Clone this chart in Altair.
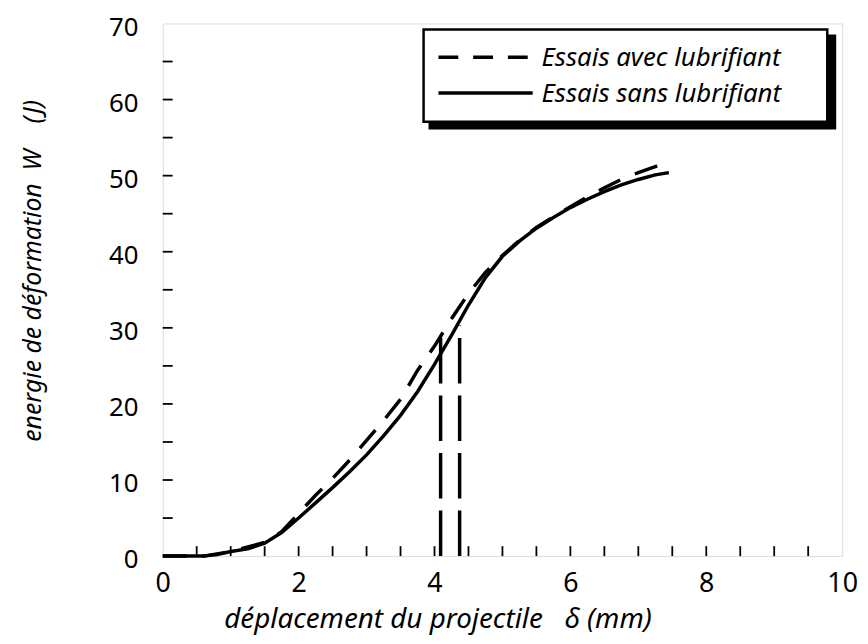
import altair as alt
import pandas as pd

# ---- data ----
x_sans = [0, 0.6, 0.8, 1.0, 1.25, 1.5, 1.75, 2.0, 2.25, 2.5, 2.75, 3.0, 3.25, 3.5, 3.75,
          4.0, 4.25, 4.5, 4.75, 5.0, 5.25, 5.5, 5.75, 6.0, 6.25, 6.5, 6.75, 7.0, 7.25, 7.45]
w_sans = [0, 0, 0.2, 0.6, 0.95, 1.7, 3.1, 5.0, 7.0, 9.0, 11.1, 13.3, 15.8, 18.5, 21.6,
          25.2, 29.0, 33.0, 36.6, 39.4, 41.4, 43.1, 44.5, 45.8, 46.9, 47.9, 48.8, 49.5, 50.1, 50.4]

x_avec = [0, 0.6, 1.0, 1.5, 1.75, 2.0, 2.25, 2.5, 2.75, 3.0, 3.25, 3.5, 3.75, 4.0, 4.25,
          4.5, 4.75, 5.0, 5.25, 5.5, 5.75, 6.0, 6.25, 6.5, 6.75, 7.0, 7.25, 7.45]
w_avec = [0, 0, 0.6, 1.8, 3.2, 5.6, 8.0, 10.2, 12.6, 15.2, 17.8, 20.6, 24.4, 27.6, 31.2,
          34.5, 37.3, 39.5, 41.5, 43.2, 44.6, 45.9, 47.2, 48.4, 49.5, 50.4, 51.2, 51.9]

vline_x = [4.09, 4.37]
vline_top = [29.4, 30.3]

x_tick_labels = [0, 2, 4, 6, 8, 10]
y_tick_labels = [0, 10, 20, 30, 40, 50, 60, 70]
x_minor = [i * 0.5 for i in range(1, 20)]
y_minor = [i * 5 for i in range(1, 14)]

legend_labels = ["Essais avec lubrifiant", "Essais sans lubrifiant"]
NB = "\u00a0"
x_title = "déplacement du projectile" + NB * 3 + "δ (mm)"
y_title = "energie de déformation" + NB * 2 + "W" + NB * 4 + "(J)"

W, H = 685, 537
FONT = "Noto Sans"

xs = alt.Scale(domain=[0, 10], nice=False)
ys = alt.Scale(domain=[0, 70], nice=False)

df_sans = pd.DataFrame({"x": x_sans, "w": w_sans})
df_avec = pd.DataFrame({"x": x_avec, "w": w_avec})
df_v = pd.DataFrame({"x": vline_x, "y0": [0, 0], "y1": vline_top})

x_axis = alt.Axis(values=x_tick_labels, format="d", title=x_title, ticks=False, domain=False, grid=False,
                  labelFontSize=27, labelFont=FONT, labelColor="black", labelPadding=15,
                  titleFont=FONT, titleFontSize=28, titleFontStyle="italic", titleFontWeight="normal",
                  titleColor="black", titleX=277, titleY=64, titleBaseline="middle", titleAlign="center",
                  labelFlush=False)
y_axis = alt.Axis(values=y_tick_labels, format="d", title=y_title, ticks=False, domain=False, grid=False,
                  labelFontSize=26, labelFont=FONT, labelColor="black", labelPadding=25, labelOffset=4,
                  titleFont=FONT, titleFontSize=25, titleFontStyle="italic", titleFontWeight="normal",
                  titleColor="black", titleX=-131, titleY=249, titleBaseline="middle", titleAlign="center",
                  titleAngle=-90, labelFlush=False)

sans = alt.Chart(df_sans).mark_line(color="black", strokeWidth=3.5).encode(
    x=alt.X("x:Q", scale=xs, axis=x_axis),
    y=alt.Y("w:Q", scale=ys, axis=y_axis),
)
avec = alt.Chart(df_avec).mark_line(color="black", strokeWidth=3.5, strokeDash=[24, 16]).encode(
    x=alt.X("x:Q", scale=xs),
    y=alt.Y("w:Q", scale=ys),
)
vlines = alt.Chart(df_v).mark_rule(color="black", strokeWidth=3.5, strokeDash=[46, 12]).encode(
    x=alt.X("x:Q", scale=xs),
    y=alt.Y("y0:Q", scale=ys),
    y2="y1:Q",
)

xt = alt.Chart(pd.DataFrame({"x": x_minor})).mark_rule(color="black", strokeWidth=1.8).encode(
    x=alt.X("x:Q", scale=xs), y=alt.value(H), y2=alt.value(H - 10))
yt = alt.Chart(pd.DataFrame({"y": y_minor})).mark_rule(color="black", strokeWidth=1.8).encode(
    y=alt.Y("y:Q", scale=ys), x=alt.value(0), x2=alt.value(10))

one = pd.DataFrame({"a": [0]})
shadow = alt.Chart(one).mark_rect(color="black").encode(
    x=alt.value(268), x2=alt.value(679), y=alt.value(11), y2=alt.value(107))
box = alt.Chart(one).mark_rect(fill="white", stroke="black", strokeWidth=2.5).encode(
    x=alt.value(263), x2=alt.value(670), y=alt.value(6), y2=alt.value(99))
leg_dash = alt.Chart(one).mark_rule(color="black", strokeWidth=3.5, strokeDash=[20, 15]).encode(
    x=alt.value(278), x2=alt.value(370), y=alt.value(34))
leg_solid = alt.Chart(one).mark_rule(color="black", strokeWidth=3.5).encode(
    x=alt.value(278), x2=alt.value(373), y=alt.value(70))
txt1 = alt.Chart(one).mark_text(align="left", baseline="alphabetic", font=FONT, fontSize=26,
                                fontStyle="italic", color="black").encode(
    x=alt.value(382), y=alt.value(43), text=alt.value(legend_labels[0]))
txt2 = alt.Chart(one).mark_text(align="left", baseline="alphabetic", font=FONT, fontSize=26,
                                fontStyle="italic", color="black").encode(
    x=alt.value(382), y=alt.value(79), text=alt.value(legend_labels[1]))

chart = alt.layer(sans, avec, vlines, xt, yt, shadow, box, leg_dash, leg_solid, txt1, txt2).properties(
    width=W, height=H,
    autosize=alt.AutoSizeParams(type="none"),
    padding={"left": 156, "top": 13, "right": 18, "bottom": 84},
).configure_view(stroke="black", strokeWidth=2.5).configure(background="white")

chart.save("out.html", embed_options={"renderer": "svg", "actions": False})
